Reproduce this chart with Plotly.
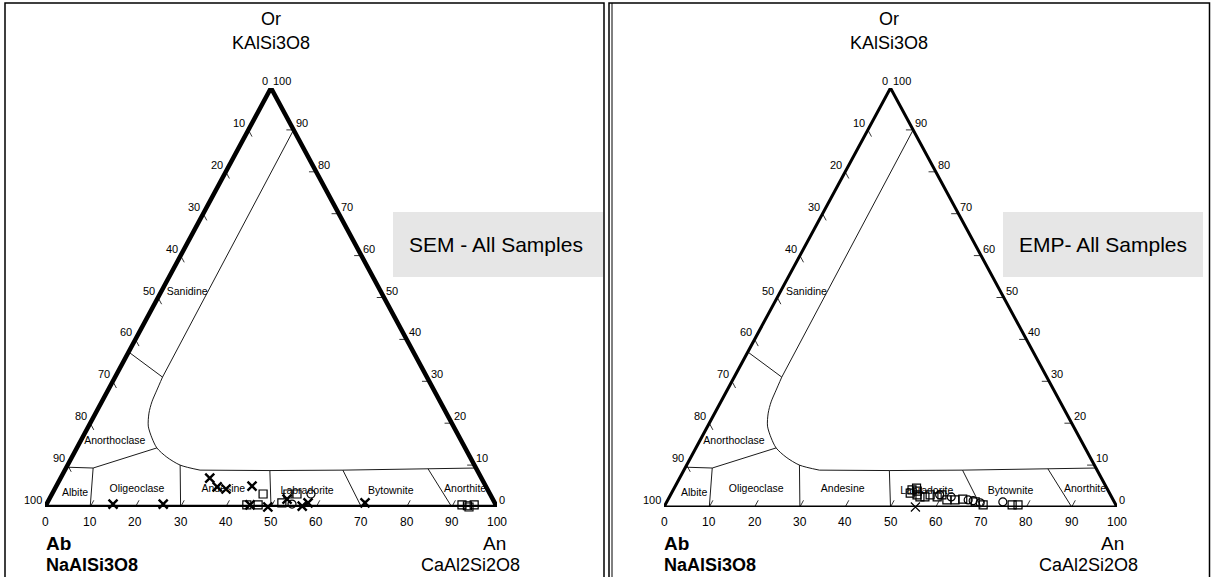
import plotly.graph_objects as go

# ---------------- data (compositions in %: An, Or; Ab = 100 - An - Or) ----------------
TICKS = [0, 10, 20, 30, 40, 50, 60, 70, 80, 90, 100]

# feldspar field boundaries
SAN_LINE_AN = [10.0, 10.5]
SAN_LINE_OR = [90.0, 31.0]
GAP_CURVE_AN = [10.5, 10.8, 11.1, 11.8, 13.2, 15.4, 17.7, 21.0, 24.9, 29.9]
GAP_CURVE_OR = [31.0, 27.9, 25.1, 22.4, 19.3, 16.5, 14.1, 11.9, 10.0, 8.8]
PLAG_TOP_AN = [29.9, 45.4, 61.5, 80.2, 90.7]
PLAG_TOP_OR = [8.8, 8.7, 8.8, 9.1, 9.3]
TIE_AN = [0.0, 10.5]
TIE_OR = [37.0, 31.0]
ANORTH_AN = [17.7, 6.0, 0.0]
ANORTH_OR = [14.1, 9.3, 9.5]
DIV_TOP_AN = [6.0, 24.9, 45.4, 61.5, 80.2]
DIV_TOP_OR = [9.3, 10.0, 8.7, 8.8, 9.1]
DIV_BASE_AN = [10, 30, 50, 70, 90]

FIELD_NAMES = ["Sanidine", "Anorthoclase", "Albite", "Oligeoclase", "Andesine",
               "Labradorite", "Bytownite", "Anorthite"]
FIELD_AN = [5.8, 7.6, 5.0, 18.2, 37.4, 56.1, 74.6, 90.9]
FIELD_OR = [51.3, 15.7, 3.3, 4.3, 4.1, 3.8, 3.8, 4.1]

# SEM analyses
SEM_X_AN = [33.0, 35.7, 37.9, 43.3, 14.7, 25.8, 49.3, 52.6, 56.8, 57.7, 70.3, 45.1]
SEM_X_OR = [6.9, 4.8, 4.3, 5.0, 0.7, 0.7, 0.0, 1.9, 0.2, 1.0, 1.0, 0.5]
SEM_SQ_AN = [46.7, 52.2, 54.2, 51.9, 44.4, 46.9, 92.0, 93.3, 94.7, 93.8]
SEM_SQ_OR = [3.1, 3.1, 3.1, 1.0, 0.5, 0.5, 0.5, 0.3, 0.5, 0.0]
SEM_CI_AN = [57.3, 54.3]
SEM_CI_OR = [3.1, 0.7]

# EMP analyses
EMP_SQ_AN = [52.7, 54.4, 52.7, 55.3, 56.4, 57.3, 59.1, 59.9, 61.6, 63.4, 65.0, 68.1,
             70.2, 76.6, 77.9, 53.5, 54.0]
EMP_SQ_OR = [4.1, 2.9, 3.3, 2.4, 2.4, 2.9, 2.4, 2.9, 1.7, 1.7, 1.9, 1.2,
             0.5, 0.5, 0.5, 4.5, 3.8]
EMP_CI_AN = [59.4, 66.3, 69.3, 74.2, 62.2, 67.5]
EMP_CI_OR = [2.9, 1.7, 1.0, 1.2, 2.4, 1.5]
EMP_X_AN = [55.5]
EMP_X_OR = [0.0]

# ---------------- layout helpers ----------------
W, H = 1211, 577
FONT = "Liberation Sans, Arial, sans-serif"


def px(x):
    return x / W


def py(y):
    return 1 - y / H


def proj(an, orr):
    """ternary composition -> cartesian plotting coords (x along An axis, y = Or)"""
    return [a + o / 2.0 for a, o in zip(an, orr)], list(orr)


fig = go.Figure()


def line_trace(an, orr, xa, ya, width=1.0, shape="linear"):
    x, y = proj(an, orr)
    fig.add_trace(go.Scatter(x=x, y=y, mode="lines", xaxis=xa, yaxis=ya,
                             line=dict(color="black", width=width, shape=shape, smoothing=0.8),
                             hoverinfo="skip", cliponaxis=False))


def draw_panel(xa, ya, edge_w, series):
    # boundaries
    line_trace(SAN_LINE_AN, SAN_LINE_OR, xa, ya, 0.9)
    line_trace(GAP_CURVE_AN, GAP_CURVE_OR, xa, ya, 0.9, "spline")
    line_trace(PLAG_TOP_AN, PLAG_TOP_OR, xa, ya, 0.9)
    line_trace(TIE_AN, TIE_OR, xa, ya, 0.9)
    line_trace(ANORTH_AN, ANORTH_OR, xa, ya, 0.9)
    for ta, to, ba in zip(DIV_TOP_AN, DIV_TOP_OR, DIV_BASE_AN):
        line_trace([ta, ba], [to, 0], xa, ya, 0.9)
    # ticks
    tk_an, tk_or = [], []
    for k in TICKS[1:-1]:
        tk_an += [k, k, None]
        tk_or += [0, 1.6, None]
        tk_an += [0, 1.6, None]
        tk_or += [100 - k, 100 - k - 1.6, None]
        tk_an += [100 - k, 100 - k - 1.6, None]
        tk_or += [k, k, None]
    x, y = [], []
    for a, o in zip(tk_an, tk_or):
        if a is None:
            x.append(None)
            y.append(None)
        else:
            x.append(a + o / 2.0)
            y.append(o)
    fig.add_trace(go.Scatter(x=x, y=y, mode="lines", xaxis=xa, yaxis=ya,
                             line=dict(color="black", width=0.8), hoverinfo="skip",
                             cliponaxis=False))
    # triangle
    line_trace([0, 100, 0, 0], [0, 0, 100, 0], xa, ya, edge_w)
    # field names
    fx, fy = proj(FIELD_AN, FIELD_OR)
    fig.add_trace(go.Scatter(x=fx, y=fy, mode="text", text=FIELD_NAMES, xaxis=xa, yaxis=ya,
                             textposition="middle center",
                             textfont=dict(size=10.5, color="black", family=FONT),
                             hoverinfo="skip", cliponaxis=False))
    # data
    for an, orr, sym, size, lw in series:
        sx, sy = proj(an, orr)
        fig.add_trace(go.Scatter(x=sx, y=sy, mode="markers", xaxis=xa, yaxis=ya,
                                 marker=dict(symbol=sym, size=size, color="black",
                                             line=dict(color="black", width=lw)),
                                 hoverinfo="skip", cliponaxis=False))
    # tick labels
    xref = "x" if xa == "x" else "x2"
    yref = "y" if ya == "y" else "y2"
    for k in TICKS:
        fig.add_annotation(x=k, y=0, xref=xref, yref=yref, text=str(k), showarrow=False,
                           xanchor="center", yanchor="middle", yshift=-15,
                           font=dict(size=12, color="black", family=FONT))
        o = 100 - k
        fig.add_annotation(x=o / 2.0, y=o, xref=xref, yref=yref, text=str(k), showarrow=False,
                           xanchor="right", yanchor="middle", xshift=-1, yshift=7,
                           font=dict(size=11, color="black", family=FONT))
        fig.add_annotation(x=100 - k / 2.0, y=k, xref=xref, yref=yref, text=str(k),
                           showarrow=False, xanchor="left", yanchor="middle", xshift=0, yshift=7,
                           font=dict(size=11, color="black", family=FONT))


sem_series = [
    (SEM_X_AN, SEM_X_OR, "x-thin", 9, 2.4),
    (SEM_SQ_AN, SEM_SQ_OR, "square-open", 8, 1.2),
    (SEM_CI_AN, SEM_CI_OR, "circle-open", 8, 1.2),
]
emp_series = [
    (EMP_SQ_AN, EMP_SQ_OR, "square-open", 8, 1.2),
    (EMP_CI_AN, EMP_CI_OR, "circle-open", 8, 1.2),
    (EMP_X_AN, EMP_X_OR, "x-thin", 9, 1.2),
]

draw_panel("x", "y", 4.5, sem_series)
draw_panel("x2", "y2", 3.0, emp_series)

ydom = [py(507), py(88)]
axis_common = dict(range=[0, 100], visible=False, showgrid=False, zeroline=False, fixedrange=True)
fig.update_layout(
    width=W, height=H, margin=dict(l=0, r=0, t=0, b=0),
    paper_bgcolor="white", plot_bgcolor="white", showlegend=False,
    xaxis=dict(domain=[px(45), px(497)], anchor="y", **axis_common),
    yaxis=dict(domain=ydom, anchor="x", **axis_common),
    xaxis2=dict(domain=[px(664), px(1117)], anchor="y2", **axis_common),
    yaxis2=dict(domain=ydom, anchor="x2", **axis_common),
)

# panel frames and title boxes
shapes = [
    dict(type="rect", xref="paper", yref="paper", x0=px(5), x1=px(604), y0=py(590), y1=py(3),
         line=dict(color="black", width=1.5), layer="below"),
    dict(type="rect", xref="paper", yref="paper", x0=px(609), x1=px(1209.5), y0=py(590), y1=py(3),
         line=dict(color="black", width=1.5), layer="below"),
    dict(type="line", xref="paper", yref="paper", x0=px(612), x1=px(612), y0=py(590), y1=py(3),
         line=dict(color="black", width=1), layer="below"),
    dict(type="rect", xref="paper", yref="paper", x0=px(393), x1=px(603), y0=py(277), y1=py(212),
         line=dict(width=0), fillcolor="#e6e6e6", layer="below"),
    dict(type="rect", xref="paper", yref="paper", x0=px(1003), x1=px(1203), y0=py(277), y1=py(212),
         line=dict(width=0), fillcolor="#e6e6e6", layer="below"),
]
fig.update_layout(shapes=shapes)


def label(x, y, text, size, anchor="center", bold=False):
    t = f"<b>{text}</b>" if bold else text
    fig.add_annotation(xref="paper", yref="paper", x=px(x), y=py(y), text=t, showarrow=False,
                       xanchor=anchor, yanchor="middle",
                       font=dict(size=size, color="black", family=FONT))


for off in (0, 618):
    label(271 + off, 19, "Or", 18)
    label(271 + off, 43, "KAlSi3O8", 18)
    label(44 + off, 543, "Ab", 19, "left", True)
    label(44 + off, 565, "NaAlSi3O8", 18, "left", True)
    label(508 + off, 543, "An", 19, "right")
    label(522 + off, 565, "CaAl2Si2O8", 18, "right")

label(496, 244, "SEM - All Samples", 21)
label(1103, 244, "EMP- All Samples", 21)

fig.write_html("out.html", config={"displayModeBar": False, "staticPlot": True},
               post_script="document.body.style.margin='0';document.body.style.overflow='hidden';")
